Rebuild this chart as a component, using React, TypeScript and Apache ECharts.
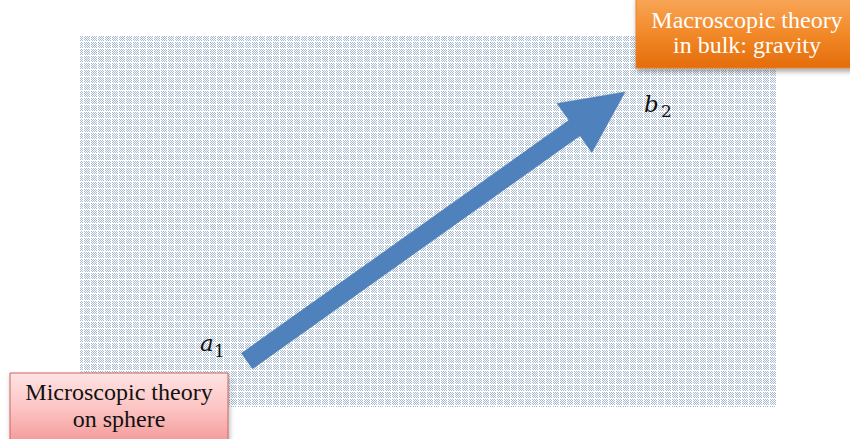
import React, { useEffect, useRef } from "react";
import * as echarts from "echarts";

// Arrow endpoints (tail -> tip), in page pixel units of the hidden axes
const arrowTail = [247, 361];
const arrowTip = [625, 92];

// Point labels
const pointLabels = ["a", "b"];
const pointSubs = ["1", "2"];

// Box captions
const macroLines = ["Macroscopic theory", "in bulk: gravity"];
const microLines = ["Microscopic theory", "on sphere"];

function makePattern(): string {
  const n = 7;
  let rects = "<rect width='" + n + "' height='" + n + "' fill='#ffffff'/>";
  for (let y = 0; y < n - 1; y++) {
    for (let x = 0; x < n - 1; x++) {
      if ((x + y) % 2 === 0) {
        rects += "<rect x='" + x + "' y='" + y + "' width='1' height='1' fill='#a6b9d3'/>";
      }
    }
  }
  return (
    "data:image/svg+xml;utf8," +
    encodeURIComponent(
      "<svg xmlns='http://www.w3.org/2000/svg' width='" + n + "' height='" + n + "' shape-rendering='crispEdges'>" + rects + "</svg>"
    )
  );
}

const serif = "'Liberation Serif', 'DejaVu Serif', serif";
const mathSerif = "'DejaVu Serif', serif";

export default function App() {
  const ref = useRef<HTMLDivElement>(null);
  useEffect(() => {
    document.body.style.margin = "0";
    const chart = echarts.init(ref.current!, undefined, { renderer: "svg" });
    const patternSvg = makePattern();
    const option: any = {
      animation: false,
      backgroundColor: "#ffffff",
      grid: { left: 0, right: 0, top: 0, bottom: 0 },
      xAxis: { type: "value", min: 0, max: 850, show: false },
      yAxis: { type: "value", min: 0, max: 439, inverse: true, show: false },
      graphic: [
        {
          type: "rect",
          z: 0,
          shape: { x: 80, y: 36, width: 697, height: 371 },
          style: {
            fill: { image: patternSvg, repeat: "repeat", imageWidth: 7, imageHeight: 7 },
          },
          silent: true,
        },
        {
          type: "group",
          z: 10,
          children: [
            {
              type: "rect",
              shape: { x: 636, y: -3, width: 220, height: 71 },
              style: {
                fill: new echarts.graphic.LinearGradient(0, 0, 0, 1, [
                  { offset: 0, color: "#f8a75a" },
                  { offset: 0.5, color: "#f28a2a" },
                  { offset: 1, color: "#e46c0a" },
                ]),
                stroke: "#e9822e",
                lineWidth: 1,
                shadowBlur: 5,
                shadowOffsetX: 1,
                shadowOffsetY: 3,
                shadowColor: "rgba(0,0,0,0.35)",
              },
            },
            {
              type: "text",
              style: {
                x: 747,
                y: 20,
                text: macroLines[0],
                fill: "#ffffff",
                font: "24px " + serif,
                align: "center",
                verticalAlign: "middle",
              },
            },
            {
              type: "text",
              style: {
                x: 747,
                y: 45,
                text: macroLines[1],
                fill: "#ffffff",
                font: "24px " + serif,
                align: "center",
                verticalAlign: "middle",
              },
            },
          ],
        },
        {
          type: "group",
          z: 10,
          children: [
            {
              type: "rect",
              shape: { x: 10, y: 373, width: 218, height: 72 },
              style: {
                fill: new echarts.graphic.LinearGradient(0, 0, 0, 1, [
                  { offset: 0, color: "#ffe3e3" },
                  { offset: 0.5, color: "#fcc4c3" },
                  { offset: 1, color: "#f29795" },
                ]),
                stroke: "#c86664",
                lineWidth: 1,
                shadowBlur: 5,
                shadowOffsetX: 1,
                shadowOffsetY: 3,
                shadowColor: "rgba(0,0,0,0.3)",
              },
            },
            {
              type: "text",
              style: {
                x: 119,
                y: 392,
                text: microLines[0],
                fill: "#111111",
                font: "24px " + serif,
                align: "center",
                verticalAlign: "middle",
              },
            },
            {
              type: "text",
              style: {
                x: 119,
                y: 419,
                text: microLines[1],
                fill: "#111111",
                font: "24px " + serif,
                align: "center",
                verticalAlign: "middle",
              },
            },
          ],
        },
        {
          type: "text",
          z: 5,
          style: { x: 200, y: 343, text: pointLabels[0], fill: "#111", font: "italic 23px " + mathSerif, verticalAlign: "middle" },
        },
        {
          type: "text",
          z: 5,
          style: { x: 214, y: 351, text: pointSubs[0], fill: "#111", font: "17px " + mathSerif, verticalAlign: "middle" },
        },
        {
          type: "text",
          z: 5,
          style: { x: 644, y: 104, text: pointLabels[1], fill: "#111", font: "italic 23px " + mathSerif, verticalAlign: "middle" },
        },
        {
          type: "text",
          z: 5,
          style: { x: 661, y: 111, text: pointSubs[1], fill: "#111", font: "17px " + mathSerif, verticalAlign: "middle" },
        },
      ],
      series: [
        {
          type: "custom",
          coordinateSystem: "cartesian2d",
          z: 3,
          data: [[arrowTail[0], arrowTail[1], arrowTip[0], arrowTip[1]]],
          renderItem: (params: any, api: any) => {
            const p0 = api.coord([api.value(0), api.value(1)]);
            const p1 = api.coord([api.value(2), api.value(3)]);
            const dx = p1[0] - p0[0];
            const dy = p1[1] - p0[1];
            const len = Math.sqrt(dx * dx + dy * dy);
            const ux = dx / len;
            const uy = dy / len;
            const px = -uy;
            const py = ux;
            const shaftHalf = 9.5;
            const headHalf = 30;
            const headLen = 62;
            const bx = p1[0] - ux * headLen;
            const by = p1[1] - uy * headLen;
            const pts = [
              [p0[0] + px * shaftHalf, p0[1] + py * shaftHalf],
              [bx + px * shaftHalf, by + py * shaftHalf],
              [bx + px * headHalf, by + py * headHalf],
              [p1[0], p1[1]],
              [bx - px * headHalf, by - py * headHalf],
              [bx - px * shaftHalf, by - py * shaftHalf],
              [p0[0] - px * shaftHalf, p0[1] - py * shaftHalf],
            ];
            return {
              type: "polygon",
              shape: { points: pts },
              style: { fill: "#4f81bd", stroke: "#4a7ab3", lineWidth: 0.5 },
            };
          },
        },
      ],
    };
    chart.setOption(option);
    return () => chart.dispose();
  }, []);
  return <div ref={ref} style={{ width: 850, height: 439 }} />;
}
